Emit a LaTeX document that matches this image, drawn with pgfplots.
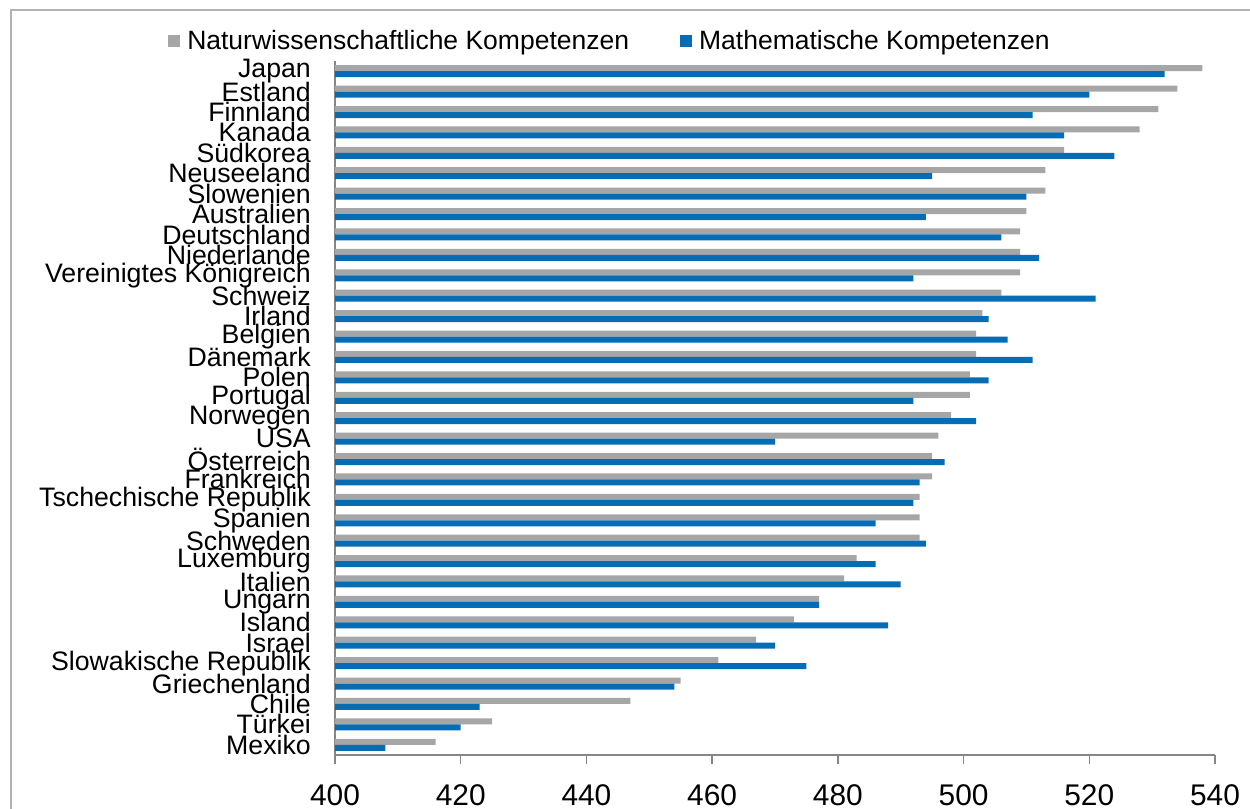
\documentclass[border=0pt]{standalone}
\usepackage{fontspec}
\setmainfont{Liberation Sans}
\usepackage{pgfplots}
\pgfplotsset{compat=1.18}
\definecolor{grayb}{RGB}{166,166,166}
\definecolor{blueb}{RGB}{6,108,180}
\definecolor{axisgray}{RGB}{134,134,134}
\definecolor{framegray}{RGB}{178,178,178}
\begin{document}
\begin{tikzpicture}[x=1bp,y=1bp]
\useasboundingbox (0,0) rectangle (1250,809);
\draw[framegray, line width=2bp] (11,0) -- (11,799) -- (1250,799);
\begin{axis}[
  at={(335bp,54bp)}, anchor=south west,
  width=880bp, height=694bp, scale only axis,
  xbar, bar width=6bp,
  xmin=400, xmax=540, ymin=-0.5, ymax=33.5,
  axis x line*=bottom, axis y line*=left,
  axis line style={axisgray, line width=1.5bp, -},
  xtick={400,420,...,540},
  ytick=\empty,
  minor ytick={-0.5,0.5,...,33.5},
  extra y ticks={0,...,33},
  extra y tick labels={Mexiko,Türkei,Chile,Griechenland,Slowakische Republik,Israel,Island,Ungarn,Italien,Luxemburg,Schweden,Spanien,Tschechische Republik,Frankreich,Österreich,USA,Norwegen,Portugal,Polen,Dänemark,Belgien,Irland,Schweiz,Vereinigtes Königreich,Niederlande,Deutschland,Australien,Slowenien,Neuseeland,Südkorea,Kanada,Finnland,Estland,Japan},
  extra y tick style={major tick length=0pt,
    yticklabel style={font=\fontsize{26.8}{26.8}\selectfont, anchor=east, inner sep=0pt, xshift=-24bp}},
  tick align=outside,
  major tick length=9bp, minor tick length=6bp,
  xtick style={axisgray, line width=1.5bp},
  minor tick style={axisgray, line width=1.5bp},
  /pgf/number format/assume math mode=true,
  xticklabel style={font=\fontsize{30}{30}\selectfont, anchor=north, inner sep=0pt, yshift=-20bp},
  legend columns=2,
  legend style={at={(0.3125,1.0288)}, anchor=center, draw=none, fill=none,
    font=\fontsize{26.6}{26.6}\selectfont,
    /tikz/every odd column/.append style={column sep=5bp},
    /tikz/every even column/.append style={column sep=49bp}},
  legend image code/.code={\fill[#1] (0bp,-6bp) rectangle (12bp,6bp);},
]
\addplot[fill=grayb, draw=none, bar shift=3bp] coordinates {
(416,0) (425,1) (447,2) (455,3) (461,4) (467,5) (473,6) (477,7) (481,8) (483,9)
(493,10) (493,11) (493,12) (495,13) (495,14) (496,15) (498,16) (501,17) (501,18) (502,19)
(502,20) (503,21) (506,22) (509,23) (509,24) (509,25) (510,26) (513,27) (513,28) (516,29)
(528,30) (531,31) (534,32) (538,33)};
\addplot[fill=blueb, draw=none, bar shift=-3bp] coordinates {
(408,0) (420,1) (423,2) (454,3) (475,4) (470,5) (488,6) (477,7) (490,8) (486,9)
(494,10) (486,11) (492,12) (493,13) (497,14) (470,15) (502,16) (492,17) (504,18) (511,19)
(507,20) (504,21) (521,22) (492,23) (512,24) (506,25) (494,26) (510,27) (495,28) (524,29)
(516,30) (511,31) (520,32) (532,33)};
\legend{Naturwissenschaftliche Kompetenzen, Mathematische Kompetenzen}
\end{axis}
\end{tikzpicture}
\end{document}
